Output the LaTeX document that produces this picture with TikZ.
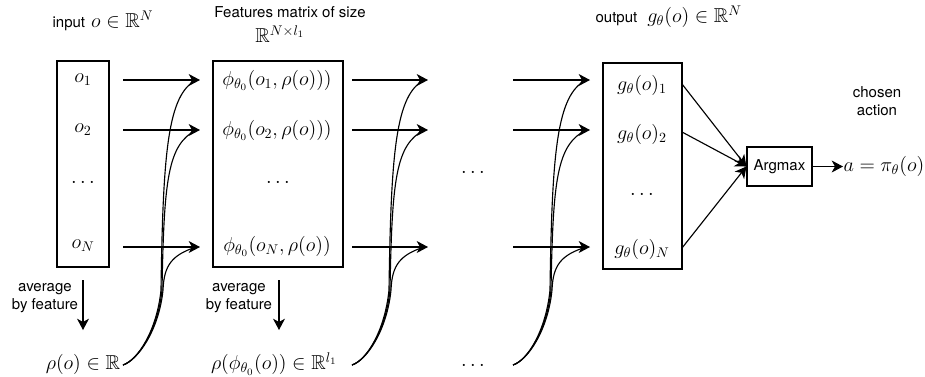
\documentclass[tikz,border=0pt]{standalone}
\usepackage{amssymb}
\usepackage{fontspec}
\setsansfont{TeX Gyre Heros}
\usetikzlibrary{arrows.meta}
\newcommand\mth[1]{\scalebox{1.05}{\fontsize{14.4}{17}\selectfont$#1$}}
\newcommand\txtfont{\sffamily\fontsize{11.25}{13.5}\selectfont}
\begin{document}
\begin{tikzpicture}[x=0.75pt,y=-0.75pt,line width=0.85pt,
  rect/.style={draw,inner sep=0pt,line width=0.85pt},
  lab/.style={inner sep=0pt,font=\txtfont},
  mlab/.style={inner sep=0pt},
  arr/.style={-{Stealth[length=8.5pt,width=9pt,inset=2.5pt]}},
  feed/.style={line width=0.85pt}]
\useasboundingbox (0,0) rectangle (925,376);

% ---------- boxes ----------
\node[rect,minimum width=39pt,minimum height=154.5pt] (inbox) at (83,164) {};
\node[rect,minimum width=97.5pt,minimum height=154.5pt] (featbox) at (278,164) {};
\node[rect,minimum width=59.25pt,minimum height=154.5pt] (outbox) at (642.5,166) {};
\node[rect,font=\txtfont,minimum width=48.75pt,minimum height=29.25pt] (argmax) at (779.5,166.5) {Argmax};

% ---------- box contents ----------
\node[mlab] (o1) at (83,80) {\mth{o_1}};
\node[mlab] (o2) at (83,130) {\mth{o_2}};
\node[mlab] (od) at (83,183) {\mth{\cdots}};
\node[mlab] (oN) at (83,246) {\mth{o_N}};

\node[mlab] (p1) at (277,80) {\mth{\phi_{\theta_0}(o_1,\rho(o)))}};
\node[mlab] (p2) at (277,130) {\mth{\phi_{\theta_0}(o_2,\rho(o)))}};
\node[mlab] (pd) at (278,183) {\mth{\cdots}};
\node[mlab] (pN) at (277,246) {\mth{\phi_{\theta_0}(o_N,\rho(o))}};

\node[mlab] (g1) at (642,85) {\mth{g_\theta(o)_1}};
\node[mlab] (g2) at (642,134) {\mth{g_\theta(o)_2}};
\node[mlab] (gd) at (642,195) {\mth{\cdots}};
\node[mlab] (gN) at (642,249) {\mth{g_\theta(o)_N}};

% ---------- top labels ----------
\node[lab,anchor=west] (inlab) at (52,21) {input\hspace{4.5pt}\mth{o\in\mathbb{R}^N}};
\node[lab] (featlab) at (290,12) {Features matrix of size};
\node[mlab] (featdim) at (280,34) {\mth{\mathbb{R}^{N\times l_1}}};
\node[lab,anchor=west] (outlab) at (595,17) {output\hspace{7.5pt}\mth{g_\theta(o)\in\mathbb{R}^N}};
\node[lab,align=center] (chosen) at (877,101) {chosen\\action};
\node[mlab,anchor=west] (pi) at (843,166.5) {\mth{a=\pi_\theta(o)}};

% ---------- bottom labels ----------
\node[lab,align=center] (avg1) at (45,298) {average\\by feature};
\node[lab,align=center] (avg2) at (239,298) {average\\by feature};
\node[mlab] (rho1) at (83,364) {\mth{\rho(o)\in\mathbb{R}}};
\node[mlab] (rho2) at (274,364) {\mth{\rho(\phi_{\theta_0}(o))\in\mathbb{R}^{l_1}}};
\node[mlab] (mdots) at (473,173) {\mth{\cdots}};
\node[mlab] (bdots) at (473,366) {\mth{\cdots}};

% ---------- coordinates ----------
\foreach \n/\y in {1/80,2/130,N/247}{
  \coordinate (as\n) at (123,\y); \coordinate (ae\n) at (200,\y); \coordinate (aj\n) at (196,\y);
  \coordinate (bs\n) at (352,\y); \coordinate (be\n) at (428,\y); \coordinate (bj\n) at (424,\y);
  \coordinate (cs\n) at (513,\y); \coordinate (ce\n) at (590,\y); \coordinate (cj\n) at (586,\y);
}
\coordinate (ra) at (123,365);
\coordinate (rb) at (352,365);
\coordinate (rc) at (513,365);
\coordinate (d1s) at (83,280); \coordinate (d1e) at (83,330);
\coordinate (d2s) at (279,280); \coordinate (d2e) at (279,330);
\coordinate (go1) at (682,84);
\coordinate (go2) at (682,132);
\coordinate (goN) at (682,248);

% ---------- horizontal arrows ----------
\foreach \n in {1,2,N}{
  \draw[arr] (as\n) -- (ae\n);
  \draw[arr] (bs\n) -- (be\n);
  \draw[arr] (cs\n) -- (ce\n);
}

% ---------- feeding curves ----------
\draw[feed] (ra) .. controls +(15,-5) and +(-4,40) .. (161,290) .. controls (163,150) and (168,95) .. (aj1);
\draw[feed] (ra) .. controls +(15,-5) and +(-4,40) .. (162,290) .. controls (164,178) and (168,145) .. (aj2);
\draw[feed] (ra) .. controls +(15,-5) and +(-4,40) .. (163,290) .. controls (164,265) and (172,255) .. (ajN);

\draw[feed] (rb) .. controls +(15,-5) and +(-4,40) .. (389,290) .. controls (391,150) and (396,95) .. (bj1);
\draw[feed] (rb) .. controls +(15,-5) and +(-4,40) .. (390,290) .. controls (392,178) and (396,145) .. (bj2);
\draw[feed] (rb) .. controls +(15,-5) and +(-4,40) .. (391,290) .. controls (392,265) and (400,255) .. (bjN);

\draw[feed] (rc) .. controls +(15,-5) and +(-4,40) .. (550,290) .. controls (552,150) and (557,95) .. (cj1);
\draw[feed] (rc) .. controls +(15,-5) and +(-4,40) .. (551,290) .. controls (553,178) and (557,145) .. (cj2);
\draw[feed] (rc) .. controls +(15,-5) and +(-4,40) .. (552,290) .. controls (553,265) and (561,255) .. (cjN);

% ---------- down arrows ----------
\draw[arr] (d1s) -- (d1e);
\draw[arr] (d2s) -- (d2e);

% ---------- output to argmax ----------
\draw[arr] (go1) -- (argmax.west);
\draw[arr] (go2) -- (argmax.west);
\draw[arr] (goN) -- (argmax.west);
\draw[arr] (argmax.east) -- (pi.west);
\end{tikzpicture}
\end{document}
